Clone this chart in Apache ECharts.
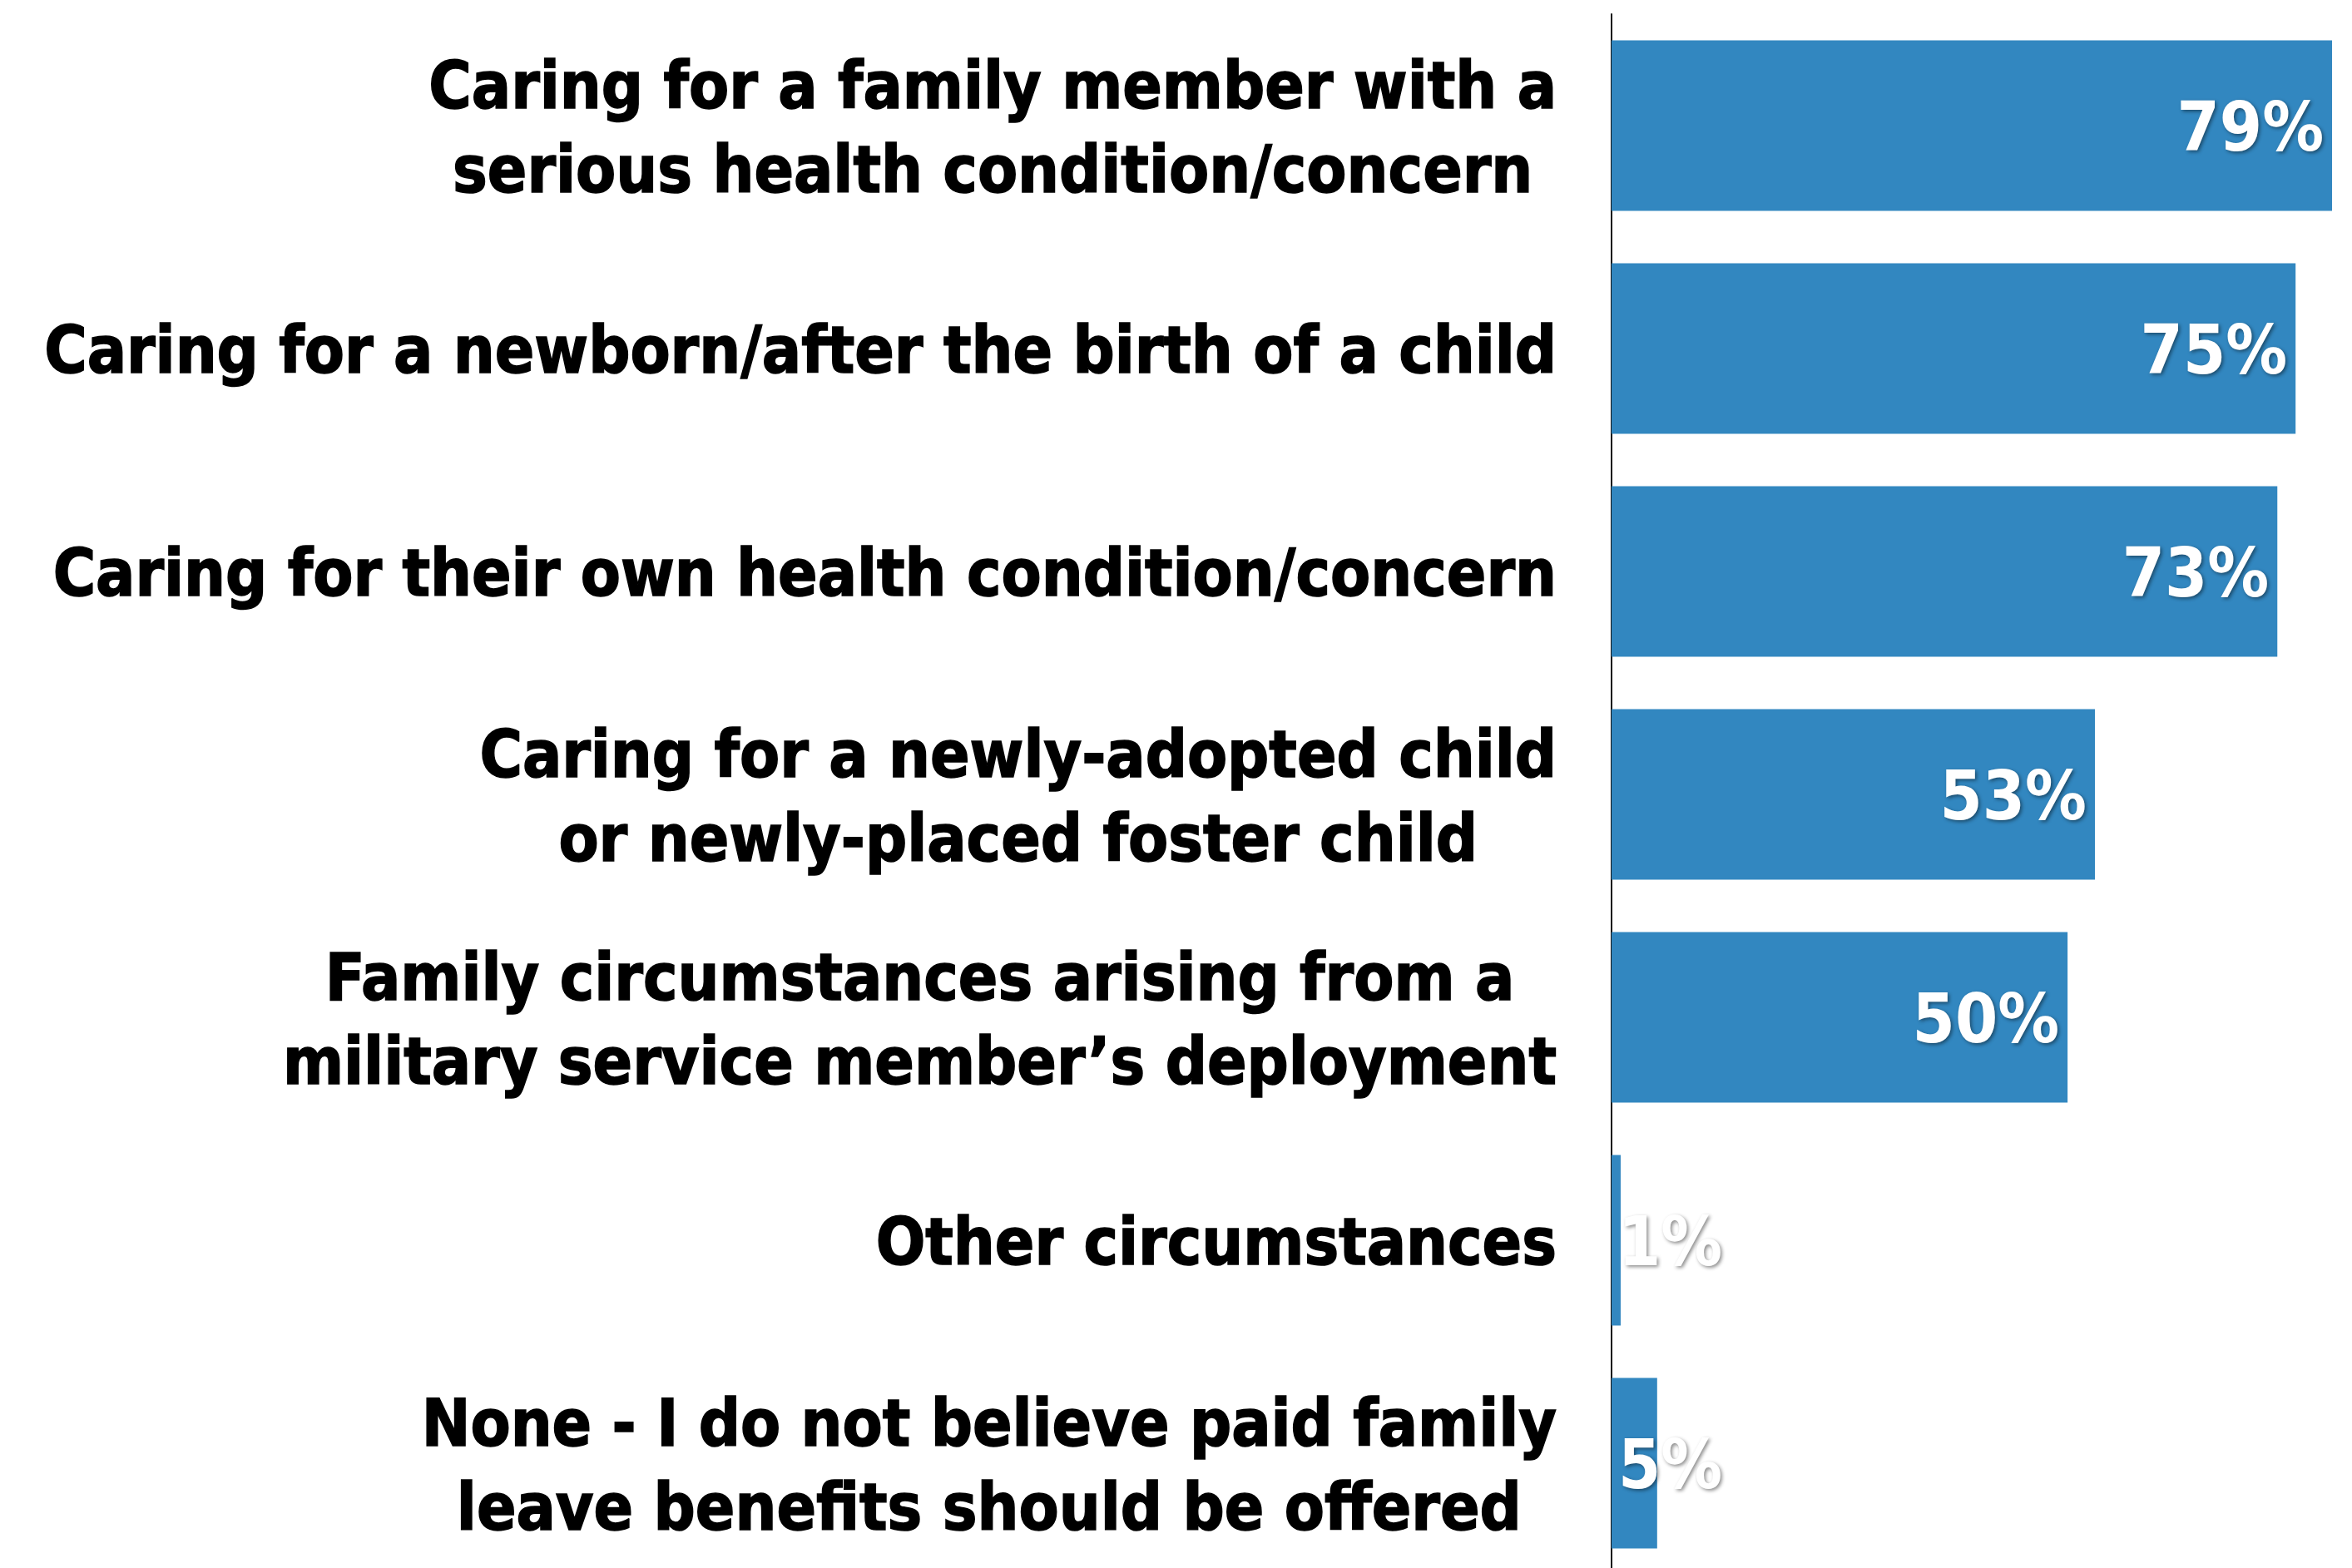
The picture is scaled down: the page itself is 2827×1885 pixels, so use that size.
<!DOCTYPE html>
<html>
<head>
<meta charset="utf-8">
<script src="https://cdn.jsdelivr.net/npm/echarts@6/dist/echarts.min.js"></script>
<style>
html,body{margin:0;padding:0;background:#fff;}
#chart{width:2827px;height:1885px;}
</style>
</head>
<body>
<div id="chart"></div>
<script>
const categories = [
  "Caring for a family member with a\nserious health condition/concern",
  "Caring for a newborn/after the birth of a child",
  "Caring for their own health condition/concern",
  "Caring for a newly-adopted child\nor newly-placed foster child",
  "Family circumstances arising from a\nmilitary service member’s deployment",
  "Other circumstances",
  "None - I do not believe paid family\nleave benefits should be offered"
];
const values = [79, 75, 73, 53, 50, 1, 5];

const FONT = "'DejaVu Sans Condensed', 'DejaVu Sans', sans-serif";
const chart = echarts.init(document.getElementById('chart'));
chart.setOption({
  animation: false,
  backgroundColor: '#ffffff',
  grid: { left: 1937, width: 877, top: 17, height: 1876, containLabel: false, outerBoundsMode: 'none' },
  xAxis: {
    type: 'value', min: 0, max: 80,
    show: false
  },
  yAxis: {
    type: 'category',
    inverse: true,
    data: categories,
    axisLine: { show: true, lineStyle: { color: '#111', width: 2 } },
    axisTick: { show: false },
    axisLabel: {
      margin: 66,
      align: 'right',
      padding: [18, 0, 0, 0],
      fontFamily: FONT,
      fontWeight: 'bold',
      fontSize: 78,
      color: '#000',
      lineHeight: 101,
      formatter: function (v) {
        return v.split('\n').map(function (l) { return '{c|' + l + '}'; }).join('\n');
      },
      rich: {
        c: { align: 'center', fontFamily: FONT, fontWeight: 'bold', fontSize: 78, lineHeight: 101, color: '#000',
             textBorderColor: '#000', textBorderWidth: 1.5 }
      }
    }
  },
  series: [{
    type: 'bar',
    barCategoryGap: '23.5%',
    itemStyle: { color: '#3287c0' },
    data: values.map(function (v) {
      return {
        value: v,
        label: { position: v < 10 ? 'insideLeft' : 'insideRight', offset: v < 10 ? [-2, 9] : [0, 9] }
      };
    }),
    label: {
      show: true,
      distance: 10,
      formatter: '{c}%',
      fontFamily: FONT,
      fontWeight: 'bold',
      fontSize: 82,
      color: '#ffffff',
      textShadowColor: 'rgba(0,0,0,0.45)',
      textShadowBlur: 4,
      textShadowOffsetX: 2,
      textShadowOffsetY: 2
    }
  }]
});
</script>
</body>
</html>
